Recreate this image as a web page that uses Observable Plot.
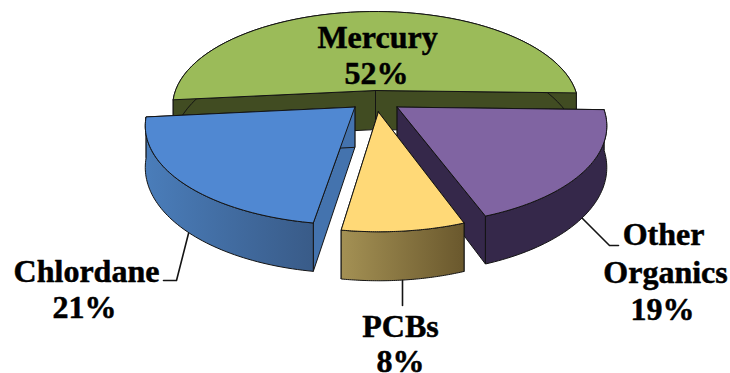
<!DOCTYPE html>
<html>
<head>
<meta charset="utf-8">
<script src="https://cdn.jsdelivr.net/npm/d3@7"></script>
<script src="https://cdn.jsdelivr.net/npm/@observablehq/plot@0.6"></script>
<style>
  html, body { margin: 0; padding: 0; background: #fff; }
  svg { display: block; }
</style>
</head>
<body>
<div id="chart"></div>
<script>
// Share of fish-advisory contaminants, clockwise from the Mercury slice.
const categories = ["Mercury", "Other Organics", "PCBs", "Chlordane"];
const shares = [52, 19, 8, 21];

// Slice styling, in the same order as the categories.
const topColors = ["#9bbb59", "#8064a2", "#ffd977", "#5088d2"];
const wallFills = ["#414c22", "#35284a", "url(#wall-pcbs)", "url(#wall-chlordane)"];
const cutFills = ["#414c22", "#35284a", "#6d5b2f", "#4473ae"];

// Pie geometry: unit radius, tilted plane with a little perspective.
const startAngle = 264.3;
const perspective = 0.165;
const wallDepth = 0.425;
const explodeX = [0, 0.105, 0.014, -0.1];
const explodeY = [0, 0.175, 0.225, 0.175];

// Pixels per pie unit and the pie centre on the page.
const width = 730, height = 373;
const unitX = 200, unitY = 92, centerX = 375, centerY = 90;

const toUnitX = (px) => (px - centerX) / unitX;
const toUnitY = (px) => (px - centerY) / unitY;

function project(i, angle, radius, z) {
  const a = (angle * Math.PI) / 180;
  const X = explodeX[i] + radius * Math.sin(a);
  const Y = explodeY[i] - radius * Math.cos(a);
  const w = 1 - perspective * Y;
  return [X / w, (Y + z * wallDepth) / w];
}

function arc(i, a0, a1, z) {
  return d3.range(0, 61).map((k) => project(i, a0 + ((a1 - a0) * k) / 60, 1, z));
}

const close = (points) => [...points, points[0]];
const outline = { x: (d) => d[0], y: (d) => d[1], stroke: "#141414", strokeWidth: 1, strokeLinejoin: "round" };
const polygon = (points, fill) => Plot.line(close(points), { ...outline, fill });

// Walls first, then the top face, so each slice paints over its own back side.
let cumulative = 0;
const slices = shares.map((share, i) => {
  const a0 = startAngle + (cumulative / 100) * 360;
  cumulative += share;
  const a1 = startAngle + (cumulative / 100) * 360;
  const apexTop = project(i, 0, 0, 0);
  const apexBottom = project(i, 0, 0, 1);
  return {
    i,
    cutStart: [apexTop, project(i, a0, 1, 0), project(i, a0, 1, 1), apexBottom],
    cutEnd: [apexTop, project(i, a1, 1, 0), project(i, a1, 1, 1), apexBottom],
    wall: [...arc(i, a0, a1, 0), ...arc(i, a0, a1, 1).reverse()],
    top: [apexTop, ...arc(i, a0, a1, 0)]
  };
});

const paintOrder = [0, 1, 3, 2];
const sliceMarks = paintOrder.flatMap((i) => {
  const s = slices[i];
  return [
    polygon(s.cutStart, cutFills[i]),
    polygon(s.cutEnd, cutFills[i]),
    polygon(s.wall, wallFills[i]),
    polygon(s.top, topColors[i])
  ];
});

// Labels and their leader lines, placed in page pixels.
const labelRows = [
  { text: "Mercury", x: 377, y: 37 },
  { text: `${shares[0]}%`, x: 376, y: 73 },
  { text: "Other", x: 663, y: 234 },
  { text: "Organics", x: 665, y: 272 },
  { text: `${shares[1]}%`, x: 662, y: 309 },
  { text: categories[2], x: 400, y: 326 },
  { text: `${shares[2]}%`, x: 400, y: 361 },
  { text: categories[3], x: 86, y: 271 },
  { text: `${shares[3]}%`, x: 84, y: 307 }
];
const leaders = [
  [[188, 233], [176, 280], [163, 280]],
  [[402, 280], [402, 305]],
  [[582, 218], [609, 245], [618, 245]]
];

function gradient(id, from, to) {
  const g = document.createElementNS("http://www.w3.org/2000/svg", "linearGradient");
  g.setAttribute("id", id);
  [[0, from], [1, to]].forEach(([offset, color]) => {
    const stop = document.createElementNS("http://www.w3.org/2000/svg", "stop");
    stop.setAttribute("offset", offset);
    stop.setAttribute("stop-color", color);
    g.appendChild(stop);
  });
  return g;
}

const defs = () => {
  const d = document.createElementNS("http://www.w3.org/2000/svg", "defs");
  d.appendChild(gradient("wall-pcbs", "#a49154", "#6a582d"));
  d.appendChild(gradient("wall-chlordane", "#4a7dba", "#395b88"));
  return d;
};

const chart = Plot.plot({
  width,
  height,
  margin: 0,
  style: { background: "#fff", overflow: "visible" },
  x: { axis: null, domain: [toUnitX(0), toUnitX(width)], range: [0, width] },
  y: { axis: null, domain: [toUnitY(0), toUnitY(height)], range: [0, height] },
  marks: [
    defs,
    ...sliceMarks,
    ...leaders.map((points) =>
      Plot.line(points, {
        x: (d) => toUnitX(d[0]),
        y: (d) => toUnitY(d[1]),
        stroke: "#141414",
        strokeWidth: 1.6
      })
    ),
    Plot.text(labelRows, {
      x: (d) => toUnitX(d.x),
      y: (d) => toUnitY(d.y),
      text: "text",
      fontFamily: "Liberation Serif",
      fontWeight: "bold",
      fontSize: 32,
      fill: "#000",
      stroke: "#000",
      strokeWidth: 0.5
    })
  ]
});

document.getElementById("chart").appendChild(chart);
</script>
</body>
</html>
